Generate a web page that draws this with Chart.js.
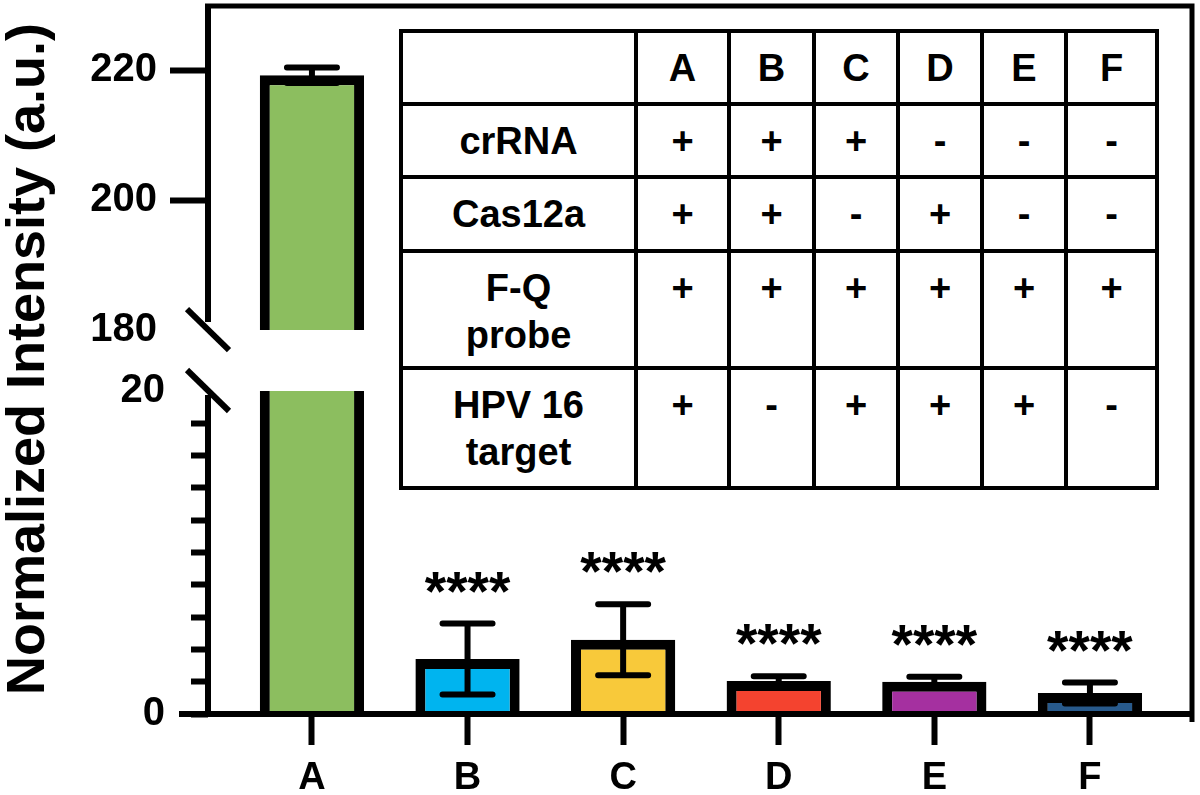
<!DOCTYPE html>
<html>
<head>
<meta charset="utf-8">
<script src="https://cdn.jsdelivr.net/npm/chart.js@4.4.0/dist/chart.umd.min.js"></script>
<style>
    body { margin: 0; background: #fff; }
    #wrap { position: relative; width: 1200px; height: 795px; }
    #conditions {
        position: absolute; left: 399px; top: 29px; width: 756px;
        border-collapse: collapse; table-layout: fixed;
        font: bold 38px 'Liberation Sans', Arial, sans-serif; color: #000;
        background: #fff;
    }
    #conditions td {
        border: 4px solid #000; text-align: center; vertical-align: top;
        padding: 12px 0 0 0; line-height: 47px; white-space: nowrap;
    }
</style>
</head>
<body>
<div id="wrap">
    <canvas id="barChart" width="1200" height="795"></canvas>
    <table id="conditions"></table>
</div>
<script>
// --- data ---
const categories = ['A', 'B', 'C', 'D', 'E', 'F'];
const intensity = [219.2, 3.4, 4.6, 2.05, 2.0, 1.3];
const intensitySD = [1.2, 2.2, 2.2, 0.28, 0.3, 0.65];
const significance = ['', '****', '****', '****', '****', '****'];
const barColors = ['#8cbe5f', '#00b4ef', '#f8c93a', '#f4432f', '#a530a0', '#285a8c'];

// broken axis: lower part 0-20, upper part 180-220
const breakLow = 20;
const breakHigh = 180;
const highTicks = [180, 200, 220];
const lowLabels = [0, 20];

// condition table
const conditionNames = ['crRNA', 'Cas12a', 'F-Q<br>probe', 'HPV 16<br>target'];
const crRNA = ['+', '+', '+', '-', '-', '-'];
const cas12a = ['+', '+', '-', '+', '-', '-'];
const fqProbe = ['+', '+', '+', '+', '+', '+'];
const hpv16 = ['+', '-', '+', '+', '+', '-'];

const FONT = "'Liberation Sans', Arial, sans-serif";

// table inside the plot
const colWidths = [235, 93, 85, 84, 84, 84, 91];
const rowHeights = [73, 73, 74, 117, 120];
const table = document.getElementById('conditions');
let html = '<colgroup>' + colWidths.map(w => `<col style="width:${w}px">`).join('') + '</colgroup>';
html += `<tr style="height:${rowHeights[0]}px"><td></td>` + categories.map(c => `<td>${c}</td>`).join('') + '</tr>';
[crRNA, cas12a, fqProbe, hpv16].forEach((row, r) => {
    html += `<tr style="height:${rowHeights[r + 1]}px"><td>${conditionNames[r]}</td>` +
        row.map(s => `<td>${s}</td>`).join('') + '</tr>';
});
table.innerHTML = html;

// clip each dataset to its own (stacked) y scale
const clipToScale = {
    id: 'clipToScale',
    beforeDatasetDraw(chart, args) {
        const ys = args.meta.vScale;
        const ctx = chart.ctx;
        ctx.save();
        ctx.beginPath();
        ctx.rect(chart.chartArea.left, ys.top, chart.chartArea.width, ys.bottom - ys.top);
        ctx.clip();
    },
    afterDatasetDraw(chart) {
        chart.ctx.restore();
    }
};

// axis lines, break marks, frame, error bars, stars, y title
const decorations = {
    id: 'decorations',
    afterDatasetsDraw(chart) {
        const ctx = chart.ctx;
        const area = chart.chartArea;
        const x = chart.scales.x, yLow = chart.scales.yLow, yHigh = chart.scales.yHigh;
        const ax = area.left;
        const pHigh = yHigh.getPixelForValue(breakHigh);
        const pLow = yLow.getPixelForValue(breakLow);

        ctx.save();
        ctx.strokeStyle = '#000';
        ctx.lineCap = 'butt';

        // frame top + right
        ctx.lineWidth = 5;
        ctx.beginPath();
        ctx.moveTo(ax - 3, area.top);
        ctx.lineTo(area.right, area.top);
        ctx.lineTo(area.right, area.bottom + 8);
        ctx.stroke();

        // y axis segments
        ctx.lineWidth = 6;
        ctx.beginPath();
        ctx.moveTo(ax, area.top - 2);
        ctx.lineTo(ax, pHigh - 8);
        ctx.moveTo(ax, pLow + 4);
        ctx.lineTo(ax, area.bottom);
        ctx.stroke();

        // break marks
        [pHigh, pLow].forEach(p => {
            ctx.beginPath();
            ctx.moveTo(ax - 21, p - 21);
            ctx.lineTo(ax + 21, p + 20);
            ctx.stroke();
        });

        // x axis (also serves as the long 0 tick)
        ctx.beginPath();
        ctx.moveTo(ax - 29, area.bottom);
        ctx.lineTo(area.right + 2, area.bottom);
        ctx.stroke();

        // error bars + significance stars
        categories.forEach((c, i) => {
            const v = intensity[i], sd = intensitySD[i];
            const ys = v > breakHigh ? yHigh : yLow;
            const px = x.getPixelForValue(i);
            const top = ys.getPixelForValue(v + sd);
            const bot = ys.getPixelForValue(v - sd);
            ctx.lineWidth = 6;
            ctx.lineCap = 'butt';
            ctx.beginPath();
            ctx.moveTo(px, bot);
            ctx.lineTo(px, top);
            ctx.stroke();
            ctx.lineCap = 'round';
            ctx.beginPath();
            ctx.moveTo(px - 25, top);
            ctx.lineTo(px + 25, top);
            ctx.moveTo(px - 25, bot);
            ctx.lineTo(px + 25, bot);
            ctx.stroke();

            if (significance[i]) {
                ctx.fillStyle = '#000';
                ctx.font = 'bold 55px ' + FONT;
                ctx.textAlign = 'center';
                ctx.textBaseline = 'alphabetic';
                ctx.fillText(significance[i], px, top - 14);
            }
        });

        // y axis title
        ctx.translate(29, 359);
        ctx.rotate(-Math.PI / 2);
        ctx.fillStyle = '#000';
        ctx.font = 'bold 54px ' + FONT;
        ctx.textAlign = 'center';
        ctx.textBaseline = 'middle';
        ctx.fillText('Normalized Intensity (a.u.)', 0, 0);
        ctx.restore();
    }
};

const lowerData = intensity.map((v, i) => ({ x: i, y: v }));
const upperData = [];
intensity.forEach((v, i) => { if (v > breakHigh) upperData.push({ x: i, y: [breakHigh, v] }); });

const barStyle = {
    borderColor: '#000',
    borderWidth: 10,
    grouped: false,
    barPercentage: 0.67,
    categoryPercentage: 1
};

// stacked y scales must not push the chart area with their edge labels
function fixYScale(s) {
    s.width = 208;
    s.paddingTop = 0;
    s.paddingBottom = 0;
}

new Chart(document.getElementById('barChart'), {
    type: 'bar',
    data: {
        datasets: [
            Object.assign({
                label: 'lower',
                data: lowerData,
                yAxisID: 'yLow',
                backgroundColor: barColors
            }, barStyle),
            Object.assign({
                label: 'upper',
                data: upperData,
                yAxisID: 'yHigh',
                backgroundColor: c => barColors[c.raw ? c.raw.x : 0]
            }, barStyle)
        ]
    },
    options: {
        responsive: false,
        animation: false,
        layout: { padding: { left: 0, top: 6, right: 8, bottom: 0 } },
        plugins: { legend: { display: false }, tooltip: { enabled: false } },
        scales: {
            x: {
                type: 'linear',
                offset: false,
                min: -0.668,
                max: 5.656,
                afterBuildTicks: s => { s.ticks = categories.map((c, i) => ({ value: i })); },
                afterFit: s => { s.height = 81; s.paddingLeft = 0; s.paddingRight = 0; },
                ticks: {
                    callback: v => categories[v],
                    autoSkip: false,
                    maxRotation: 0,
                    padding: 11,
                    color: '#000',
                    font: { family: FONT, size: 38, weight: 'bold' }
                },
                grid: { offset: false, drawOnChartArea: false, tickLength: 31, tickWidth: 6, tickColor: '#000' },
                border: { display: false }
            },
            yHigh: {
                type: 'linear',
                position: 'left',
                stack: 'y',
                stackWeight: 385,
                weight: 2,
                min: 170.62,
                max: 229.85,
                afterBuildTicks: s => { s.ticks = highTicks.map(v => ({ value: v })); },
                afterFit: fixYScale,
                ticks: {
                    autoSkip: false,
                    padding: 13,
                    color: '#000',
                    font: { family: FONT, size: 40, weight: 'bold' }
                },
                grid: {
                    drawOnChartArea: false, tickLength: 38, tickWidth: 6,
                    tickColor: c => (c.tick && c.tick.value === breakHigh) ? 'rgba(0,0,0,0)' : '#000'
                },
                border: { display: false }
            },
            yLow: {
                type: 'linear',
                position: 'left',
                stack: 'y',
                stackWeight: 323,
                weight: 1,
                min: 0,
                max: breakLow,
                afterFit: fixYScale,
                ticks: {
                    stepSize: 2,
                    autoSkip: false,
                    padding: 26,
                    color: '#000',
                    callback: v => lowLabels.includes(v) ? v : '',
                    font: { family: FONT, size: 40, weight: 'bold' }
                },
                grid: {
                    drawOnChartArea: false, tickLength: 17, tickWidth: 6,
                    tickColor: c => (c.tick && c.tick.value === breakLow) ? 'rgba(0,0,0,0)' : '#000'
                },
                border: { display: false }
            }
        }
    },
    plugins: [clipToScale, decorations]
});
</script>
</body>
</html>
